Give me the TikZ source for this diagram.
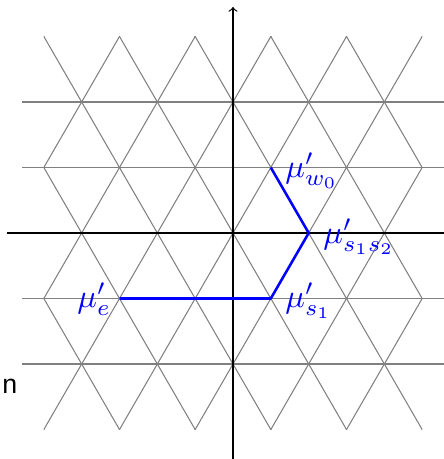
\documentclass[tikz,border=0pt]{standalone}
\usepackage{fontspec}
\usepackage{graphicx}
\newfontfamily\nfont{Liberation Sans}
\newcommand{\biglab}[1]{\scalebox{1.4}{$#1$}}
\begin{document}
\begin{tikzpicture}[x=0.43pt,y=-0.43pt,
  latt/.style={gray,line width=0.45pt},
  axis/.style={black,line width=0.5pt},
  wpath/.style={blue,line width=1.1pt,line join=round},
  wlab/.style={blue,anchor=base west,inner sep=0pt}]
\useasboundingbox (0,0) rectangle (444,459);
\clip (0,0) rectangle (444,459);
% diagonal lattice lines
\begin{scope}
\clip (43.8,36.5) rectangle (422.2,429.5);
\foreach \k in {-8,...,8}{
  \draw[latt] ({233+\k*75.67-138.6},473) -- ({233+\k*75.67+138.6},-7);
  \draw[latt] ({233+\k*75.67-138.6},-7) -- ({233+\k*75.67+138.6},473);
}
\end{scope}
% horizontal lattice lines
\foreach \y in {102,167.5,298.5,364}{
  \draw[latt] (22,\y) -- (444,\y);
}
% axes
\coordinate (xl) at (7,233);
\coordinate (xr) at (444,233);
\coordinate (yb) at (233,459);
\coordinate (yt) at (233,7);
\draw[axis] (xl) -- (xr);
\draw[axis,->] (yb) -- (yt);
% weights
\coordinate (e) at (119.5,298.5);
\coordinate (s1) at (270.8,298.5);
\coordinate (s1s2) at (308.7,233);
\coordinate (w0) at (270.8,167.5);
\draw[wpath] (e) -- (s1) -- (s1s2) -- (w0);
\node[wlab] (le) at (77,307) {\biglab{\mu'_e}};
\node[wlab] (ls1) at (285,307) {\biglab{\mu'_{s_1}}};
\node[wlab] (ls1s2) at (323,243) {\biglab{\mu'_{s_1s_2}}};
\node[wlab] (lw0) at (285,177) {\biglab{\mu'_{w_0}}};
\node[anchor=base west,inner sep=0pt] (n) at (2,393) {\nfont\fontsize{11.5}{14}\selectfont n};
\end{tikzpicture}
\end{document}
